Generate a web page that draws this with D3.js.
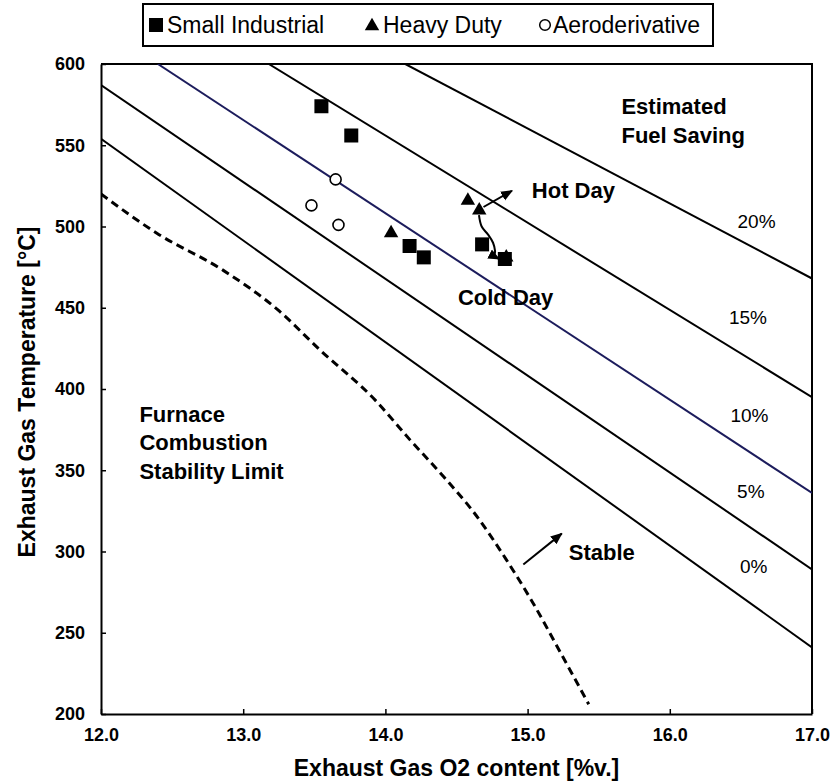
<!DOCTYPE html>
<html><head><meta charset="utf-8">
<script src="https://cdn.jsdelivr.net/npm/d3@7/dist/d3.min.js"></script>
<style>
body{margin:0;background:#fff}
svg{display:block}
text{font-family:Arial,"Liberation Sans",Helvetica,sans-serif;fill:#000}
</style>
</head><body>
<svg id="chart" width="833" height="782"></svg>
<script>
// ---------- data ----------
const xTicks = [12, 13, 14, 15, 16, 17];
const yTicks = [200, 250, 300, 350, 400, 450, 500, 550, 600];

const smallIndustrial = [[13.55,574],[13.76,556],[14.17,488],[14.27,481],[14.68,489],[14.84,480]];
const heavyDuty = [[14.58,516],[14.66,510],[14.04,496],[14.85,481]];
const aeroderivative = [[13.65,529],[13.48,513],[13.67,501]];

const savingLabels = ["0%","5%","10%","15%","20%"];
const savingStart = [[12,554],[12,587],[12.40,600],[13.18,600],[14.14,600]];
const savingEnd   = [[17,241],[17,289],[17,336],[17,395],[17,468]];
const savingColor = ["#000","#000","#1c1c5c","#000","#000"];
const savingLabelX = [16.59,16.57,16.56,16.55,16.61];
const savingLabelT = [291,337,384,444,503];

const stabilityLimit = [[12.0,520],[12.39,496],[12.86,473],[13.24,449],[13.54,424],[13.93,393],[14.17,369],[14.41,346],[14.64,322],[14.85,295],[15.04,268],[15.23,238],[15.43,206]];

const hotDayArrow = [[14.69,512],[14.89,522]];
const coldDayArrow = [[14.658,507],[14.677,500],[14.722,495],[14.757,490],[14.771,485],[14.770,482],[14.80,480]];
const stableArrow = [[14.97,292],[15.24,311]];

const annotations = [
  {t:"Estimated", x:15.66, y:569},
  {t:"Fuel Saving", x:15.66, y:551.4},
  {t:"Hot Day", x:15.03, y:517.6},
  {t:"Cold Day", x:14.51, y:451.8},
  {t:"Furnace", x:12.27, y:380},
  {t:"Combustion", x:12.27, y:362.2},
  {t:"Stability Limit", x:12.27, y:344.4},
  {t:"Stable", x:15.29, y:295}
];

const legendItems = ["Small Industrial","Heavy Duty","Aeroderivative"];

// ---------- layout ----------
const svg = d3.select("#chart");
const x = d3.scaleLinear().domain([12,17]).range([101,812]);
const y = d3.scaleLinear().domain([200,600]).range([714,64]);

const defs = svg.append("defs");
defs.append("clipPath").attr("id","plotclip").append("rect")
  .attr("x",x(12)).attr("y",y(600)).attr("width",x(17)-x(12)).attr("height",y(200)-y(600));
defs.append("marker").attr("id","arrow").attr("viewBox","0 0 10 10")
  .attr("refX",9).attr("refY",5).attr("markerWidth",12).attr("markerHeight",12)
  .attr("markerUnits","userSpaceOnUse").attr("orient","auto")
  .append("path").attr("d","M0,0.8 L10,5 L0,9.2 Z").attr("fill","#000");

// axes
const fmt = d3.format(".1f");
const xAxis = svg.append("g").attr("transform",`translate(0,${y(200)})`)
  .call(d3.axisBottom(x).tickValues(xTicks).tickFormat(fmt).tickSizeInner(-5).tickSizeOuter(0).tickPadding(14));
const yAxis = svg.append("g").attr("transform",`translate(${x(12)},0)`)
  .call(d3.axisLeft(y).tickValues(yTicks).tickSizeInner(-5).tickSizeOuter(0).tickPadding(16));
[xAxis,yAxis].forEach(a=>{
  a.selectAll("path.domain").attr("stroke","#000").attr("stroke-width",2);
  a.selectAll(".tick line").attr("stroke","#000").attr("stroke-width",1.5);
  a.selectAll(".tick text").attr("font-size",18).attr("font-weight","bold")
   .attr("font-family","Arial,'Liberation Sans',sans-serif").attr("fill","#000");
});
// frame top/right
svg.append("path").attr("d",`M${x(12)},${y(600)}H${x(17)}V${y(200)}`)
  .attr("fill","none").attr("stroke","#000").attr("stroke-width",2);

// axis titles
svg.append("text").attr("x",(x(12)+x(17))/2).attr("y",776).attr("text-anchor","middle")
  .attr("font-size",23).attr("font-weight","bold").text("Exhaust Gas O2 content [%v.]");
svg.append("text").attr("transform",`translate(35,392) rotate(-90)`)
  .attr("text-anchor","middle").attr("font-size",23).attr("font-weight","bold")
  .text("Exhaust Gas Temperature [°C]");

const plot = svg.append("g").attr("clip-path","url(#plotclip)");
const line = d3.line().x(d=>x(d[0])).y(d=>y(d[1]));

// iso fuel-saving lines
savingLabels.forEach((lab,i)=>{
  plot.append("path").attr("d",line([savingStart[i],savingEnd[i]]))
    .attr("fill","none").attr("stroke",savingColor[i]).attr("stroke-width",2);
  svg.append("text").attr("x",x(savingLabelX[i])).attr("y",y(savingLabelT[i])).attr("dy","0.35em")
    .attr("text-anchor","middle").attr("font-size",19).text(lab);
});

// stability limit
plot.append("path").attr("d",d3.line().x(d=>x(d[0])).y(d=>y(d[1])).curve(d3.curveMonotoneX)(stabilityLimit))
  .attr("fill","none").attr("stroke","#000").attr("stroke-width",3).attr("stroke-dasharray","8,5");

// markers
const tri = d3.symbol().type(d3.symbolTriangle).size(90);
plot.selectAll(".hd").data(heavyDuty).join("path").attr("class","hd")
  .attr("d",tri).attr("transform",d=>`translate(${x(d[0])},${y(d[1])})`).attr("fill","#000");
plot.selectAll(".si").data(smallIndustrial).join("rect").attr("class","si")
  .attr("x",d=>x(d[0])-7).attr("y",d=>y(d[1])-7).attr("width",14).attr("height",14).attr("fill","#000");
plot.selectAll(".ad").data(aeroderivative).join("circle").attr("class","ad")
  .attr("cx",d=>x(d[0])).attr("cy",d=>y(d[1])).attr("r",5.5)
  .attr("fill","#fff").attr("stroke","#000").attr("stroke-width",1.6);

// arrows
svg.append("path").attr("d",line(hotDayArrow)).attr("stroke","#000").attr("stroke-width",2)
  .attr("fill","none").attr("marker-end","url(#arrow)");
svg.append("path").attr("d",d3.line().x(d=>x(d[0])).y(d=>y(d[1])).curve(d3.curveCatmullRom)(coldDayArrow))
  .attr("stroke","#000").attr("stroke-width",2).attr("fill","none").attr("marker-end","url(#arrow)");
svg.append("path").attr("d",line(stableArrow)).attr("stroke","#000").attr("stroke-width",2)
  .attr("fill","none").attr("marker-end","url(#arrow)");

// annotations
svg.selectAll(".ann").data(annotations).join("text").attr("class","ann")
  .attr("x",d=>x(d.x)).attr("y",d=>y(d.y)).attr("font-size",22).attr("font-weight","bold")
  .text(d=>d.t);

// legend
const lg = svg.append("g");
lg.append("rect").attr("x",143).attr("y",4).attr("width",570).attr("height",42)
  .attr("fill","#fff").attr("stroke","#000").attr("stroke-width",2);
const textX = [167,383,553];
lg.append("rect").attr("x",149).attr("y",18).attr("width",14).attr("height",14).attr("fill","#000");
lg.append("path").attr("d",tri).attr("transform",`translate(372,26)`).attr("fill","#000");
lg.append("circle").attr("cx",545).attr("cy",25).attr("r",5.3).attr("fill","#fff").attr("stroke","#000").attr("stroke-width",1.5);
legendItems.forEach((t,i)=>{
  lg.append("text").attr("x",textX[i]).attr("y",25).attr("dy","0.36em").attr("font-size",23).text(t);
});
</script>
</body></html>
